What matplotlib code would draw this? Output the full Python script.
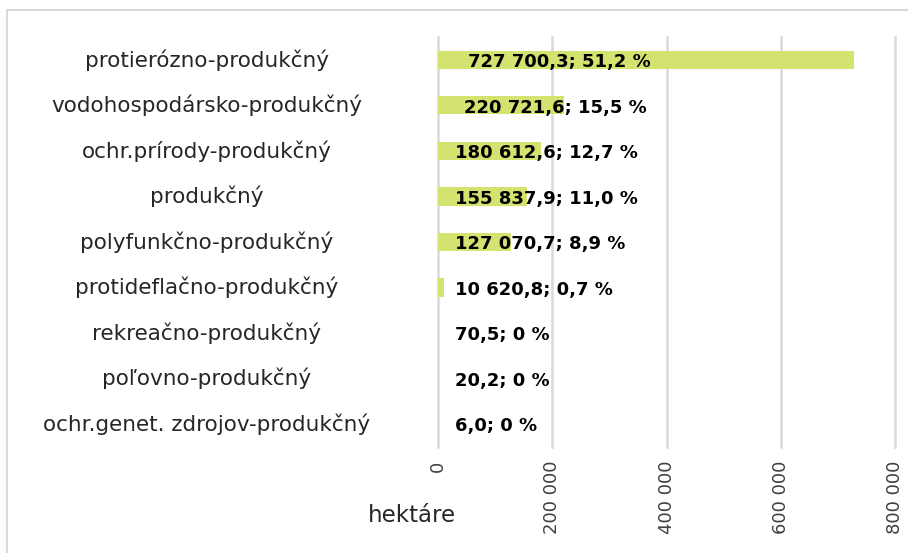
import matplotlib
matplotlib.use("Agg")
import matplotlib.pyplot as plt
from matplotlib.patches import Rectangle

categories = ["protierózno-produkčný", "vodohospodársko-produkčný", "ochr.prírody-produkčný",
              "produkčný", "polyfunkčno-produkčný", "protideflačno-produkčný",
              "rekreačno-produkčný", "poľovno-produkčný", "ochr.genet. zdrojov-produkčný"]
values = [727700.3, 220721.6, 180612.6, 155837.9, 127070.7, 10620.8, 70.5, 20.2, 6.0]
labels = ["727 700,3; 51,2 %", "220 721,6; 15,5 %", "180 612,6; 12,7 %", "155 837,9; 11,0 %",
          "127 070,7; 8,9 %", "10 620,8; 0,7 %", "70,5; 0 %", "20,2; 0 %", "6,0; 0 %"]
ticks = [0, 200000, 400000, 600000, 800000]
tick_labels = ["0", "200 000", "400 000", "600 000", "800 000"]

plt.rcParams['font.family'] = ["DejaVu Sans"]

W, H = 908, 553
fig = plt.figure(figsize=(W/100, H/100), dpi=100)
fig.patches.append(Rectangle((7/W, -0.1), 1.2, 1.1 - 10/H, transform=fig.transFigure,
                             fill=False, edgecolor="#d9d9d9", lw=1.5))

ax = fig.add_axes([438/W, 1 - 447/H, (895-438)/W, (447-37)/H])
n = len(categories)
ypos = list(range(n))
ax.barh(ypos, values, height=0.4, color="#d4e270", zorder=2)
ax.set_ylim(n - 0.5, -0.5)
ax.set_xlim(0, 800000)
ax.set_xticks(ticks)
ax.set_xticklabels(tick_labels, rotation=90, fontsize=13, color="#404040")
ax.set_yticks([])
ax.tick_params(axis="x", length=0, pad=10)
for s in ax.spines.values():
    s.set_visible(False)
ax.grid(axis="x", color="#d9d9d9", lw=1.8, zorder=0)
for gl in ax.get_xgridlines():
    gl.set_clip_on(False)

offsets = [52000, 46000] + [30000] * 7
for i, (lab, off) in enumerate(zip(labels, offsets)):
    ax.text(off, i + 0.05, lab, ha="left", va="center", fontsize=13, fontweight="bold",
            color="#000000", zorder=3)

for i, c in enumerate(categories):
    yf = 1 - (37 + (i + 0.5) * (410/9)) / H
    fig.text(207/W, yf, c, ha="center", va="center", fontsize=15.5, color="#262626")

fig.text(412/W, 1 - 515/H, "hektáre", ha="center", va="center", fontsize=16.5, color="#262626")

fig.savefig("out.png", dpi=100)
